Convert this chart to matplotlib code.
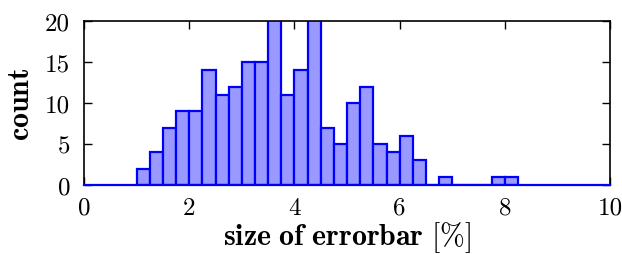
import matplotlib
matplotlib.use("Agg")
import matplotlib.pyplot as plt
import numpy as np

# bin left edges (in %) and counts
bin_left = [1.00, 1.25, 1.50, 1.75, 2.00, 2.25, 2.50, 2.75, 3.00, 3.25,
            3.50, 3.75, 4.00, 4.25, 4.50, 4.75, 5.00, 5.25, 5.50, 5.75,
            6.00, 6.25, 6.50, 6.75, 7.00, 7.25, 7.50, 7.75, 8.00]
counts = [2, 4, 7, 9, 9, 14, 11, 12, 15, 15,
          22, 11, 14, 21, 7, 5, 10, 12, 5, 4,
          6, 3, 0, 1, 0, 0, 0, 1, 1]
bin_width = 0.25
xticks = [0, 2, 4, 6, 8, 10]
yticks = [0, 5, 10, 15, 20]

plt.rcParams['font.family'] = ['cmr10', 'DejaVu Serif']
plt.rcParams['mathtext.fontset'] = 'cm'
plt.rcParams['axes.formatter.use_mathtext'] = True

fig = plt.figure(figsize=(6.22, 2.55), dpi=100)
ax = fig.add_axes([0.135, 0.2706, 0.846, 0.643])

ax.bar(bin_left, counts, width=bin_width, align='edge',
       color=(0.6, 0.6, 1.0), edgecolor='blue', linewidth=1.6, zorder=2)
ax.plot([0, 10], [0, 0], color='blue', lw=1.6, zorder=3, clip_on=False)

ax.set_xlim(0, 10)
ax.set_ylim(0, 20)
ax.set_xticks(xticks)
ax.set_yticks(yticks)
ax.set_xticklabels([str(t) for t in xticks])
ax.set_yticklabels([str(t) for t in yticks])
ax.tick_params(direction='in', top=True, right=True, length=6, width=1,
               labelsize=18)
ax.tick_params(axis='x', pad=8.5)
ax.tick_params(axis='y', pad=10)
for s in ax.spines.values():
    s.set_linewidth(1.2)

ax.set_xlabel(r'$\mathbf{size\ of\ errorbar}\ [\%]$', fontsize=21.5, labelpad=0)
ax.set_ylabel(r'$\mathbf{count}$', fontsize=21.5, labelpad=7)

fig.savefig('out.png', dpi=100)
